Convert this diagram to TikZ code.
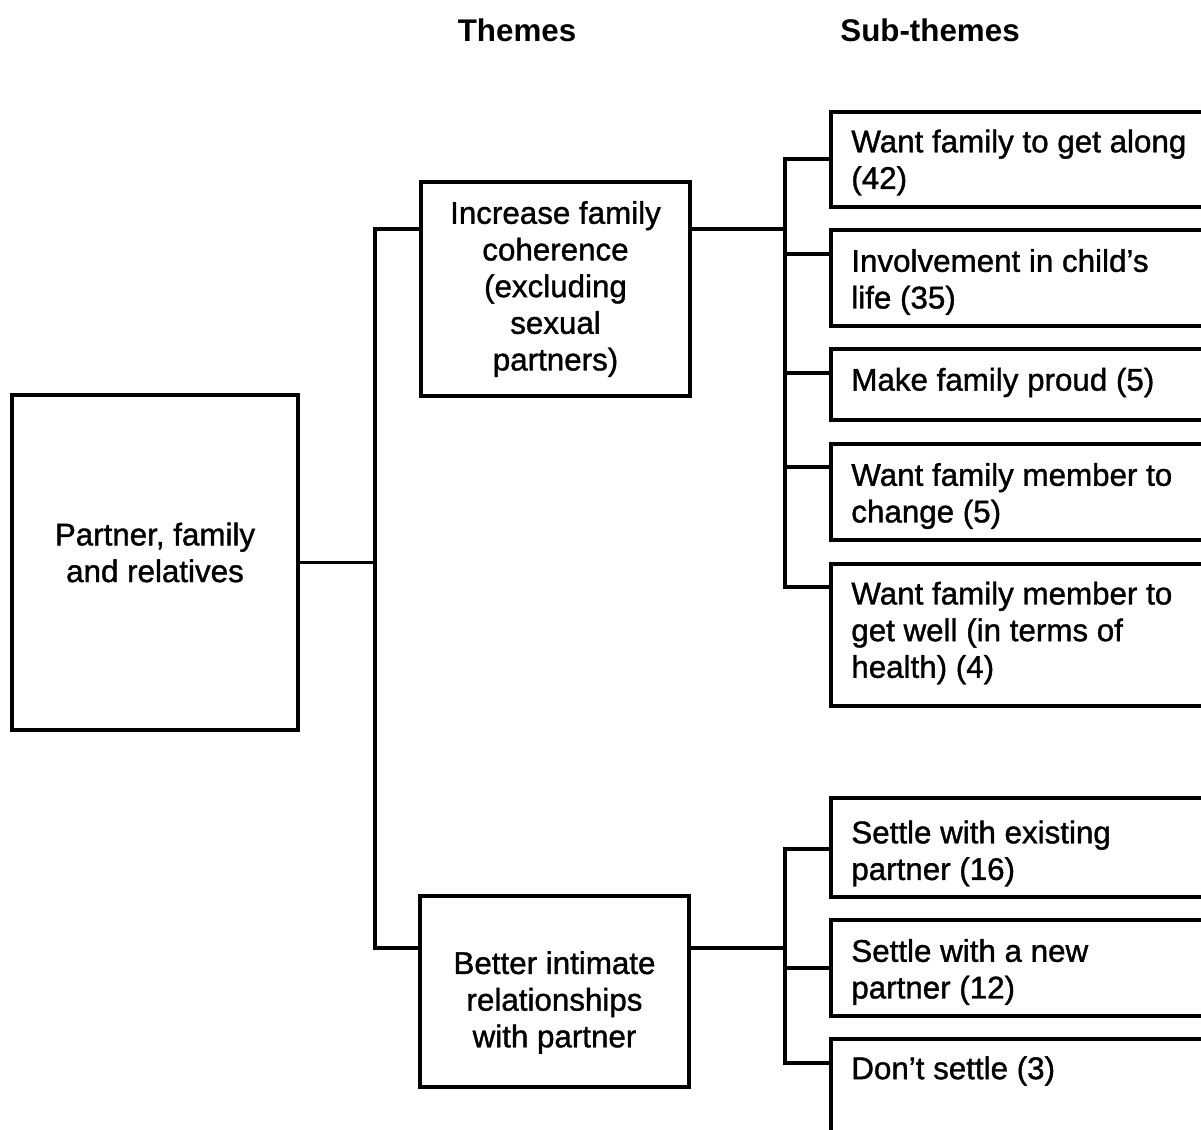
\documentclass[tikz,border=0pt]{standalone}
\usepackage{fontspec}
\setmainfont{Liberation Sans}
\newfontfamily\bxfam[FakeBold=1.2]{Liberation Sans}
\newcommand\bxfont{\bxfam\fontsize{23.5pt}{27.5pt}\selectfont}
\newcommand\hdfont{\fontsize{23.5pt}{27.5pt}\selectfont\bfseries}
\begin{document}
\begin{tikzpicture}[x=0.75pt, y=-0.75pt, line width=2.5pt,
  box/.style={draw, rectangle, inner sep=0pt, outer sep=0pt, anchor=north west},
  subbox/.style={box, minimum width=375pt},
  txt/.style={inner sep=0pt, align=center, font=\bxfont},
  subtxt/.style={inner sep=0pt, anchor=west, align=left, font=\bxfont},
  head/.style={font=\hdfont, inner sep=0pt}]
\useasboundingbox (0,0) rectangle (1201,1129);
\clip (0,0) rectangle (1201,1129);

% column headings
\node[head] (hthemes) at (517,30) {Themes};
\node[head] (hsub) at (930,30) {Sub-themes};

% main category
\node[box, minimum width=214.5pt, minimum height=251.25pt] (root) at (12,395) {};
\node[txt] (rootlbl) at ([yshift=7.5pt]root.center) {Partner, family\\and relatives};

% themes
\node[box, minimum width=201.75pt, minimum height=160.5pt] (t1) at (421,182) {};
\node[txt] (t1lbl) at (t1.center) {Increase family\\coherence\\(excluding\\sexual\\partners)};
\node[box, minimum width=201.75pt, minimum height=143.25pt] (t2) at (420,896) {};
\node[txt] (t2lbl) at ([yshift=-8.25pt]t2.center) {Better intimate\\relationships\\with partner};

% sub-themes of the first theme
\node[subbox, minimum height=71.25pt] (sA) at (831,112) {};
\node[subtxt] (sAlbl) at ([xshift=14pt, yshift=-2.25pt]sA.west) {Want family to get along\\(42)};
\node[subbox, minimum height=72pt] (sB) at (831,230) {};
\node[subtxt] (sBlbl) at ([xshift=14pt, yshift=-3pt]sB.west) {Involvement in child’s\\life (35)};
\node[subbox, minimum height=53.25pt] (sC) at (831,349) {};
\node[subtxt] (sClbl) at ([xshift=14pt, yshift=1.5pt]sC.west) {Make family proud (5)};
\node[subbox, minimum height=72pt] (sD) at (831,444) {};
\node[subtxt] (sDlbl) at ([xshift=14pt, yshift=-3pt]sD.west) {Want family member to\\change (5)};
\node[subbox, minimum height=106.5pt] (sE) at (831,564) {};
\node[subtxt] (sElbl) at ([xshift=14pt, yshift=1.5pt]sE.west) {Want family member to\\get well (in terms of\\health) (4)};

% sub-themes of the second theme
\node[subbox, minimum height=74.25pt] (sF) at (831,798) {};
\node[subtxt] (sFlbl) at ([xshift=14pt, yshift=-4.5pt]sF.west) {Settle with existing\\partner (16)};
\node[subbox, minimum height=72pt] (sG) at (831,920) {};
\node[subtxt] (sGlbl) at ([xshift=14pt, yshift=-3pt]sG.west) {Settle with a new\\partner (12)};
\node[subbox, minimum height=72pt] (sH) at (831,1039) {};
\node[subtxt] (sHlbl) at ([xshift=14pt, yshift=12pt]sH.west) {Don’t settle (3)};

% junction points of the bracket connectors
\coordinate (ja) at (375,229);
\coordinate (jb) at (375,948);
\coordinate (ka) at (785,229);
\coordinate (kb) at (785,948);
\coordinate (bA) at (785,159);
\coordinate (bB) at (785,254);
\coordinate (bC) at (785,373);
\coordinate (bD) at (785,467);
\coordinate (bE) at (785,587);
\coordinate (bF) at (785,849);
\coordinate (bG) at (785,968);
\coordinate (bH) at (785,1063);

% category to themes
\draw (root.east) -- (root.east -| ja);
\draw (t1.west |- ja) -- (ja) -- (jb) -- (t2.west |- jb);

% first theme to its sub-themes
\draw (t1.east |- ka) -- (ka);
\draw (bA -| sA.west) -- (bA) -- (bE) -- (bE -| sE.west);
\draw (bB) -- (bB -| sB.west);
\draw (bC) -- (bC -| sC.west);
\draw (bD) -- (bD -| sD.west);

% second theme to its sub-themes
\draw (t2.east |- kb) -- (kb);
\draw (bF -| sF.west) -- (bF) -- (bH) -- (bH -| sH.west);
\draw (bG) -- (bG -| sG.west);
\end{tikzpicture}
\end{document}
